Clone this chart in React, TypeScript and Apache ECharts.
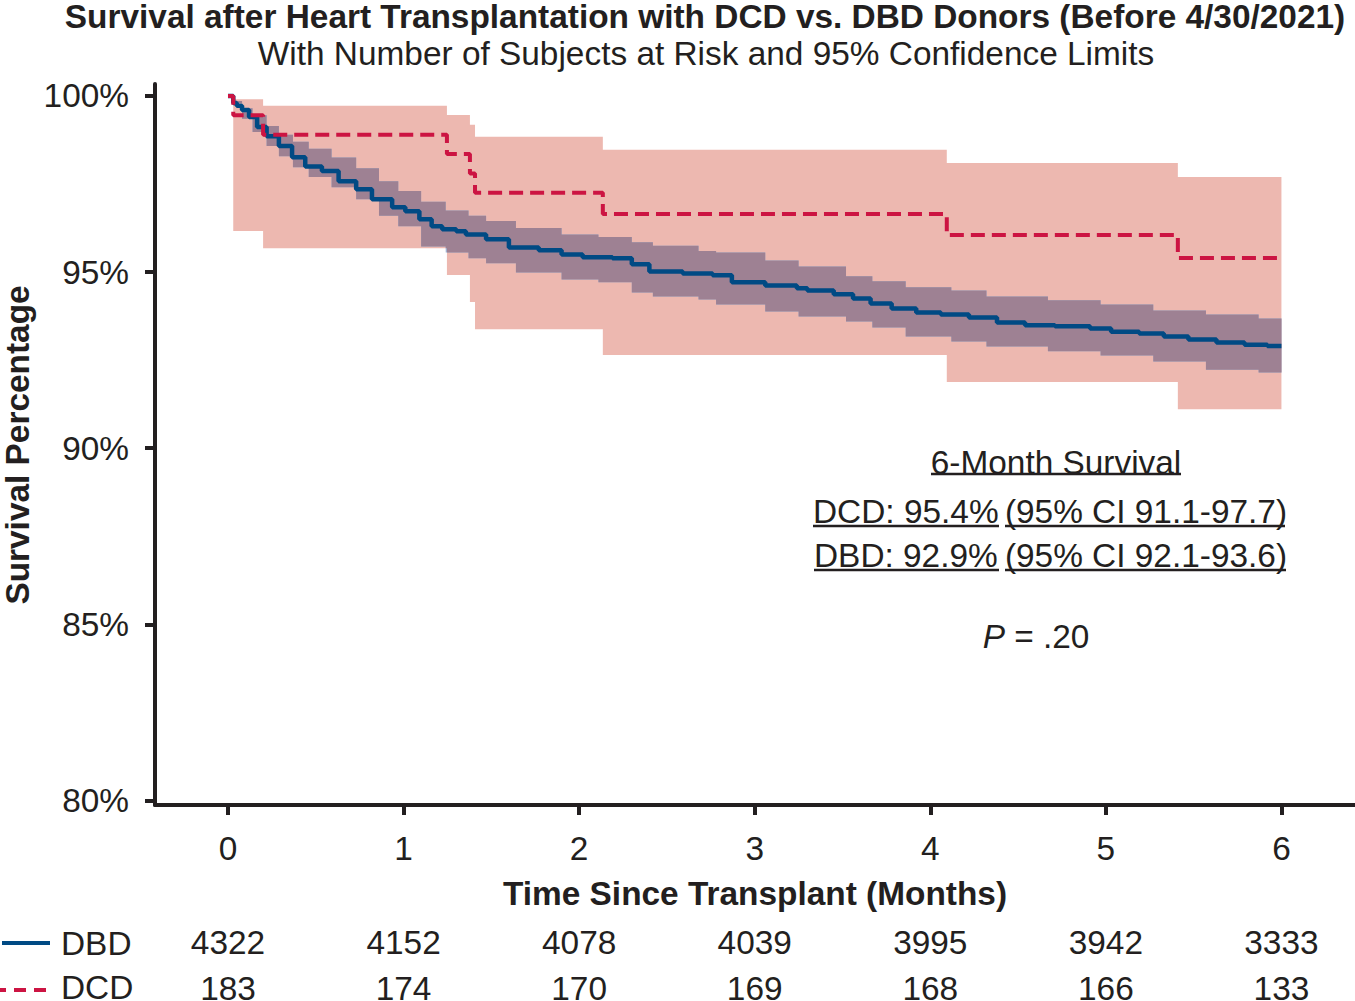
import React, { useEffect, useRef } from "react";
import * as echarts from "echarts";

// ---- axis / table values ----
const months = [0, 1, 2, 3, 4, 5, 6];
const yTicks = [80, 85, 90, 95, 100];
const riskDBD = [4322, 4152, 4078, 4039, 3995, 3942, 3333];
const riskDCD = [183, 174, 170, 169, 168, 166, 133];

// ---- DBD Kaplan-Meier estimate (months, %) ----
const dbdTime = [0, 0.03, 0.05, 0.08, 0.12, 0.166, 0.22, 0.29, 0.365, 0.44, 0.535, 0.63, 0.73, 0.82, 0.935, 1.01, 1.09, 1.16, 1.22, 1.3, 1.355, 1.47, 1.6, 1.77, 1.9, 2.02, 2.19, 2.3, 2.4, 2.59, 2.76, 2.87, 3.06, 3.24, 3.3, 3.45, 3.56, 3.66, 3.78, 3.92, 4.06, 4.22, 4.38, 4.54, 4.71, 4.91, 5.03, 5.19, 5.33, 5.47, 5.63, 5.79, 5.92, 6.0];
const dbdSurv = [100, 99.8, 99.72, 99.6, 99.4, 99.12, 98.86, 98.58, 98.26, 98.0, 97.87, 97.58, 97.35, 97.07, 96.84, 96.73, 96.5, 96.3, 96.22, 96.16, 96.07, 95.93, 95.7, 95.62, 95.5, 95.42, 95.39, 95.22, 95.02, 94.96, 94.91, 94.71, 94.62, 94.54, 94.48, 94.37, 94.25, 94.11, 93.97, 93.85, 93.8, 93.71, 93.57, 93.49, 93.46, 93.4, 93.31, 93.26, 93.17, 93.09, 93.0, 92.94, 92.9, 92.9];

// ---- DBD 95% confidence limits ----
const dbdBandTime = [0, 0.045, 0.08, 0.14, 0.22, 0.29, 0.37, 0.46, 0.59, 0.73, 0.86, 0.97, 1.1, 1.24, 1.37, 1.47, 1.64, 1.9, 2.11, 2.3, 2.42, 2.68, 2.78, 3.06, 3.25, 3.52, 3.67, 3.86, 4.12, 4.32, 4.67, 4.97, 5.27, 5.57, 5.87, 6.0];
const dbdUpper = [100, 99.86, 99.65, 99.45, 99.15, 98.9, 98.7, 98.5, 98.25, 97.95, 97.58, 97.3, 97.0, 96.75, 96.6, 96.45, 96.25, 96.07, 96.0, 95.85, 95.75, 95.6, 95.56, 95.33, 95.16, 94.88, 94.74, 94.57, 94.48, 94.31, 94.2, 94.08, 93.91, 93.8, 93.68, 93.63];
const dbdLower = [100, 99.8, 99.35, 98.98, 98.58, 98.29, 97.98, 97.7, 97.41, 97.07, 96.6, 96.3, 95.73, 95.56, 95.39, 95.25, 94.99, 94.79, 94.71, 94.42, 94.31, 94.22, 94.08, 93.88, 93.74, 93.6, 93.43, 93.17, 93.03, 92.89, 92.75, 92.63, 92.46, 92.23, 92.15, 92.06];

// ---- DCD Kaplan-Meier estimate and 95% confidence limits ----
const dcdTime = [0, 0.03, 0.2, 1.247, 1.378, 1.407, 2.135, 4.094, 5.41, 6.0];
const dcdSurv = [100, 99.45, 98.9, 98.35, 97.8, 97.25, 96.65, 96.05, 95.4, 95.4];
const dcdUpper = [100, 99.91, 99.72, 99.46, 99.18, 98.84, 98.47, 98.1, 97.7, 97.7];
const dcdLower = [100, 96.17, 95.68, 94.92, 94.15, 93.38, 92.65, 91.88, 91.11, 91.11];

const FONT = "'Liberation Sans', Arial, Helvetica, sans-serif";
const FS = 33.4;
const INK = "#231F20";
const BLUE = "#004A84";
const RED = "#CC1442";
const PINK = "#EDB8B0";
const MAUVE = "#9E8193";
const LIGHTBLUE = "#A2B4D3";

const zip = (xs: number[], ys: number[]) => xs.map((x, i) => [x, ys[i]]);

// value of a right-continuous step function at x
const stepAt = (t: number[], v: number[], x: number) => {
  let k = 0;
  for (let i = 0; i < t.length; i++) if (t[i] <= x + 1e-9) k = i;
  return v[k];
};

// polygon points of a step band through the axes' scales
const stepPolygon = (api: any, t: number[], up: number[], lo: number[]) => {
  const pts: number[][] = [];
  for (let i = 0; i < t.length; i++) {
    pts.push(api.coord([t[i], up[i]]));
    if (i + 1 < t.length) pts.push(api.coord([t[i + 1], up[i]]));
  }
  for (let i = t.length - 1; i >= 0; i--) {
    if (i + 1 < t.length) pts.push(api.coord([t[i + 1], lo[i]]));
    pts.push(api.coord([t[i], lo[i]]));
  }
  return pts;
};

const dcdBand = {
  type: "custom",
  silent: true,
  data: [[dcdTime[0], dcdUpper[0]]],
  renderItem: (_p: any, api: any) => ({
    type: "polygon",
    shape: { points: stepPolygon(api, dcdTime, dcdUpper, dcdLower) },
    style: { fill: PINK },
  }),
};

// DBD band: light blue where alone, mauve where it overlaps the DCD band
const dbdBand = {
  type: "custom",
  silent: true,
  data: [[dbdBandTime[0], dbdUpper[0]]],
  renderItem: (_p: any, api: any) => {
    const bt = Array.from(new Set([...dbdBandTime, ...dcdTime])).sort((a, b) => a - b);
    const iu: number[] = [];
    const il: number[] = [];
    bt.forEach((x) => {
      const u = Math.min(stepAt(dbdBandTime, dbdUpper, x), stepAt(dcdTime, dcdUpper, x));
      const l = Math.max(stepAt(dbdBandTime, dbdLower, x), stepAt(dcdTime, dcdLower, x));
      iu.push(Math.max(u, l));
      il.push(l);
    });
    return {
      type: "group",
      children: [
        {
          type: "polygon",
          shape: { points: stepPolygon(api, dbdBandTime, dbdUpper, dbdLower) },
          style: { fill: LIGHTBLUE },
        },
        {
          type: "polygon",
          shape: { points: stepPolygon(api, bt, iu, il) },
          style: { fill: MAUVE },
        },
      ],
    };
  },
};

export default function App() {
  const ref = useRef<HTMLDivElement>(null);

  useEffect(() => {
    document.body.style.margin = "0";
    if (!ref.current) return;
    const chart = echarts.init(ref.current, undefined, { renderer: "svg" });

    const txt = (text: string, x: number, y: number, opts: any = {}) => ({
      type: "text",
      x,
      y,
      rotation: opts.rotation || 0,
      style: {
        text,
        fill: INK,
        fontFamily: FONT,
        fontSize: FS,
        fontWeight: opts.bold ? "bold" : "normal",
        align: opts.align || "center",
        verticalAlign: "middle",
        rich: opts.rich,
      },
    });
    const uline = (x1: number, x2: number, y: number) => ({
      type: "line",
      shape: { x1, y1: y, x2, y2: y },
      style: { stroke: INK, lineWidth: 2.5 },
    });

    const baseX = {
      type: "value",
      gridIndex: 0,
      min: -0.4157,
      max: 6.419,
      splitLine: { show: false },
    };
    const lbl = (margin: number, formatter?: any) => ({
      customValues: months,
      margin,
      verticalAlign: "middle",
      color: INK,
      fontSize: FS,
      fontFamily: FONT,
      ...(formatter ? { formatter } : {}),
    });

    chart.setOption({
      animation: false,
      grid: {
        left: 155,
        top: 84,
        width: 1200,
        height: 721,
        containLabel: false,
        outerBoundsMode: "none",
      },
      xAxis: [
        {
          ...baseX,
          position: "bottom",
          axisLine: { show: true, onZero: false, lineStyle: { color: INK, width: 4 } },
          axisTick: { show: true, length: 10, lineStyle: { color: INK, width: 4 }, customValues: months },
          axisLabel: lbl(43),
        },
        {
          ...baseX,
          position: "bottom",
          axisLine: { show: false, onZero: false },
          axisTick: { show: false },
          axisLabel: lbl(137.5, (v: number) => String(riskDBD[months.indexOf(Math.round(v))] ?? "")),
        },
        {
          ...baseX,
          position: "bottom",
          axisLine: { show: false, onZero: false },
          axisTick: { show: false },
          axisLabel: lbl(183, (v: number) => String(riskDCD[months.indexOf(Math.round(v))] ?? "")),
        },
      ],
      yAxis: {
        type: "value",
        min: 79.872,
        max: 100.34,
        splitLine: { show: false },
        axisLine: { show: true, onZero: false, lineStyle: { color: INK, width: 4 } },
        axisTick: { show: true, length: 10, lineStyle: { color: INK, width: 4 }, customValues: yTicks },
        axisLabel: {
          customValues: yTicks,
          margin: 26,
          color: INK,
          fontSize: FS,
          fontFamily: FONT,
          formatter: (v: number) => Math.round(v) + "%",
        },
      },
      series: [
        dcdBand,
        dbdBand,
        {
          name: "DBD",
          type: "line",
          step: "end",
          symbol: "none",
          lineStyle: { color: BLUE, width: 4.5 },
          data: zip(dbdTime, dbdSurv),
        },
        {
          name: "DCD",
          type: "line",
          step: "end",
          symbol: "none",
          lineStyle: { color: RED, width: 4, type: [14, 7] },
          data: zip(dcdTime, dcdSurv),
        },
      ],
      graphic: [
        txt("Survival after Heart Transplantation with DCD vs. DBD Donors (Before 4/30/2021)", 705, 16.8, { bold: true }),
        txt("With Number of Subjects at Risk and 95% Confidence Limits", 706, 53),
        txt("Survival Percentage", 17, 445, { bold: true, rotation: Math.PI / 2 }),
        txt("Time Since Transplant (Months)", 755, 893, { bold: true }),
        txt("6-Month Survival", 1056, 462),
        uline(931, 1181, 474),
        txt("DCD: 95.4%", 813, 511, { align: "left" }),
        txt("(95% CI 91.1-97.7)", 1287, 511, { align: "right" }),
        uline(813, 999, 526),
        uline(1005, 1285, 526),
        txt("DBD: 92.9%", 814, 555, { align: "left" }),
        txt("(95% CI 92.1-93.6)", 1287, 555, { align: "right" }),
        uline(814, 999, 570),
        uline(1005, 1286, 570),
        txt("{i|P} = .20", 1036, 636, { rich: { i: { fontStyle: "italic", fontSize: FS, fontFamily: FONT, fill: INK } } }),
        {
          type: "line",
          shape: { x1: 2, y1: 943, x2: 50, y2: 943 },
          style: { stroke: BLUE, lineWidth: 4 },
        },
        {
          type: "line",
          shape: { x1: 0, y1: 990, x2: 48, y2: 990 },
          style: { stroke: RED, lineWidth: 4, lineDash: [12, 8], lineDashOffset: 6 },
        },
        txt("DBD", 61, 943, { align: "left" }),
        txt("DCD", 61, 987.5, { align: "left" }),
      ],
    });

    return () => chart.dispose();
  }, []);

  return <div ref={ref} style={{ width: 1355, height: 1001 }} />;
}
